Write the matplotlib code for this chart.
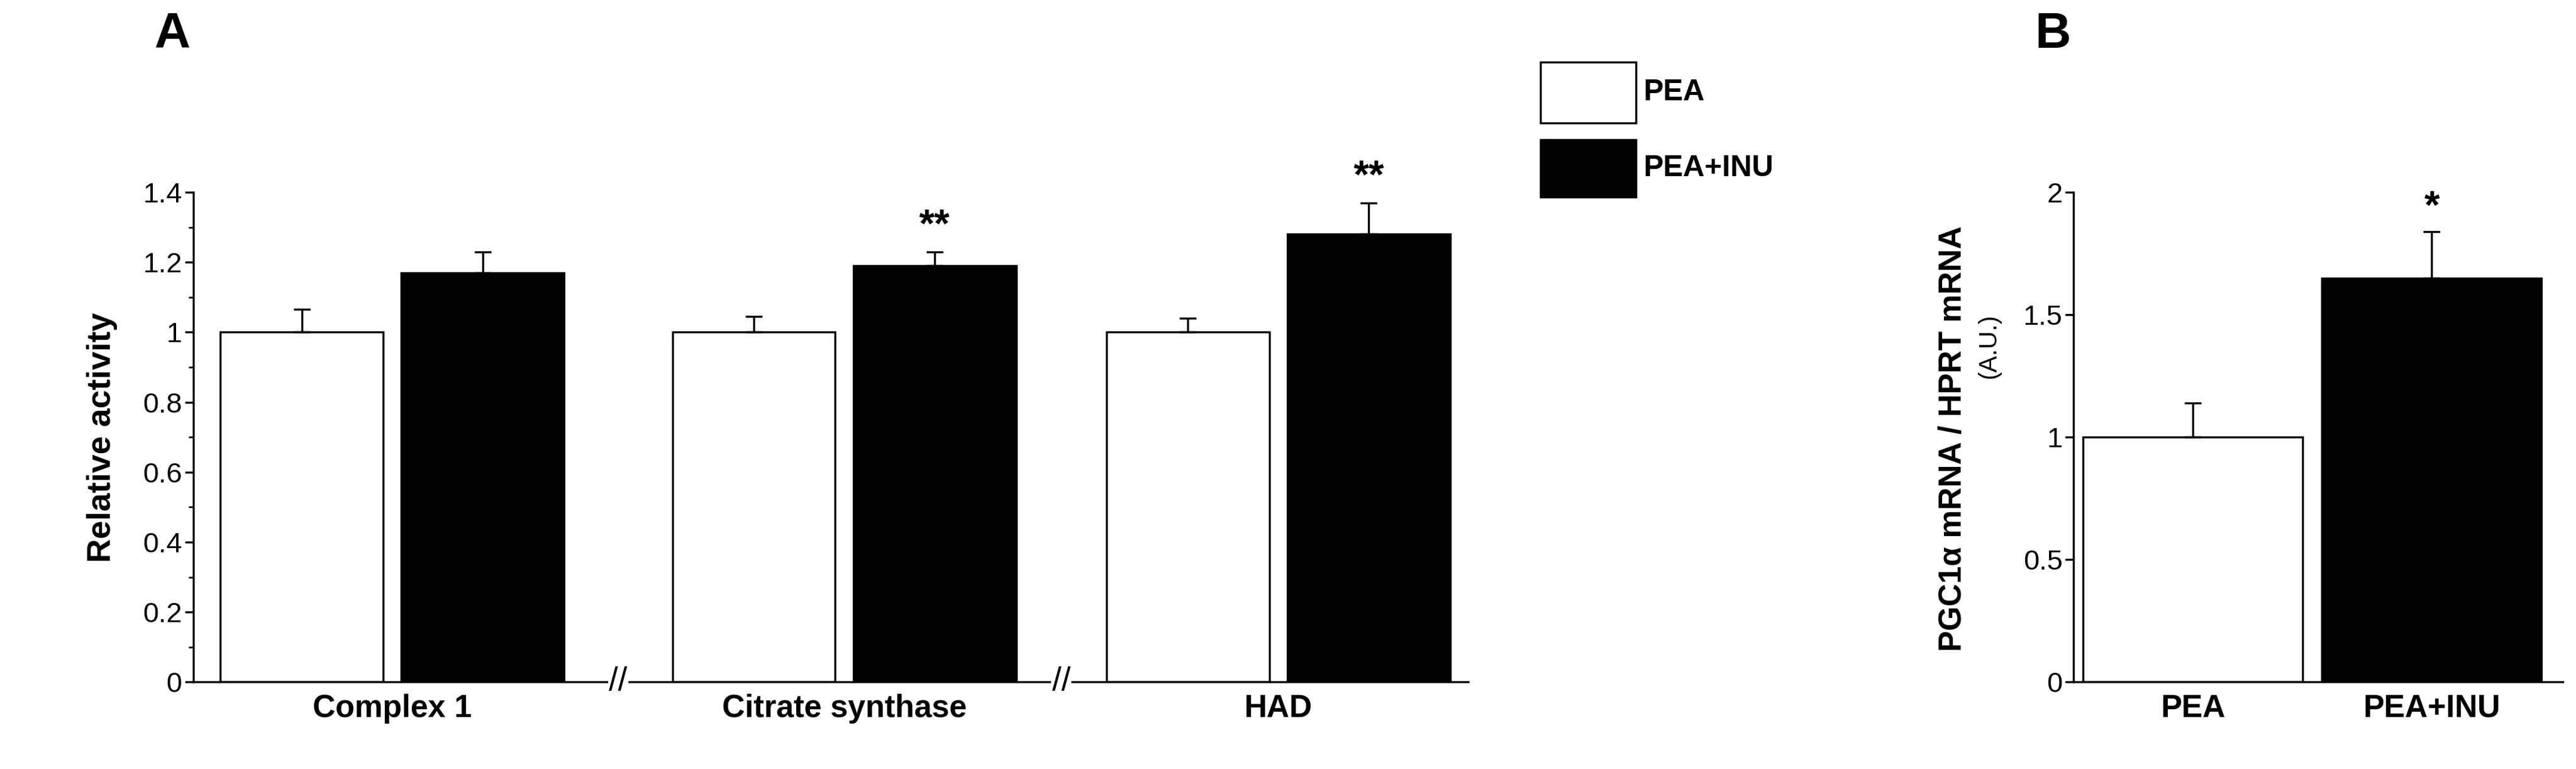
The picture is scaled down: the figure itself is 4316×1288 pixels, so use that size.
import matplotlib.pyplot as plt
from matplotlib.patches import Rectangle

plt.rcParams['font.family'] = ['Liberation Sans', 'DejaVu Sans']

# ---------------- data ----------------
groups = ['Complex 1', 'Citrate synthase', 'HAD']
pea_vals = [1.0, 1.0, 1.0]
pea_err = [0.065, 0.045, 0.04]
inu_vals = [1.17, 1.19, 1.28]
inu_err = [0.06, 0.04, 0.09]
stars_a = ['', '**', '**']

b_labels = ['PEA', 'PEA+INU']
b_vals = [1.0, 1.65]
b_err = [0.14, 0.19]
stars_b = ['', '*']

fig = plt.figure(figsize=(43.16, 12.88), dpi=100)

# ---------------- panel A ----------------
ax = fig.add_axes([0.075, 0.113, 0.495, 0.637])
width = 0.9
pea_x = [0.6, 3.1, 5.5]
inu_x = [p + 1.0 for p in pea_x]
ax.bar(pea_x, pea_vals, width, color='white', edgecolor='black', linewidth=2.5)
ax.bar(inu_x, inu_vals, width, color='black', edgecolor='black', linewidth=2.5)
ax.errorbar(pea_x, pea_vals, yerr=[[0] * 3, pea_err], fmt='none', ecolor='black',
            elinewidth=2.5, capsize=10, capthick=2.5)
ax.errorbar(inu_x, inu_vals, yerr=[[0] * 3, inu_err], fmt='none', ecolor='black',
            elinewidth=2.5, capsize=10, capthick=2.5)
for x, v, e, s in zip(inu_x, inu_vals, inu_err, stars_a):
    if s:
        ax.text(x, v + e + 0.02, s, ha='center', va='bottom', fontsize=48, fontweight='bold')
ax.set_xlim(0, 7.05)
ax.set_ylim(0, 1.4)
ax.set_yticks([0, 0.2, 0.4, 0.6, 0.8, 1, 1.2, 1.4])
ax.set_yticklabels(['0', '0.2', '0.4', '0.6', '0.8', '1', '1.2', '1.4'])
ax.set_yticks([i * 0.1 for i in range(15)], minor=True)
ax.set_xticks([(p + q) / 2 for p, q in zip(pea_x, inu_x)])
ax.set_xticklabels(groups, fontweight='bold', fontsize=38)
ax.tick_params(axis='x', length=0, pad=14)
ax.tick_params(axis='y', labelsize=34, width=2.5, length=10)
ax.tick_params(axis='y', which='minor', width=2, length=6)
ax.set_ylabel('Relative activity', fontsize=40, fontweight='bold', labelpad=30)
for sp in ['top', 'right']:
    ax.spines[sp].set_visible(False)
for sp in ['left', 'bottom']:
    ax.spines[sp].set_linewidth(2.5)
# axis breaks
for bx in [2.35, 4.8]:
    ax.text(bx, 0, '//', ha='center', va='center', fontsize=40,
            bbox=dict(facecolor='white', edgecolor='none', pad=1))

# ---------------- legend ----------------
fig.patches.append(Rectangle((0.598, 0.840), 0.037, 0.079, transform=fig.transFigure,
                             facecolor='white', edgecolor='black', linewidth=2.5))
fig.patches.append(Rectangle((0.598, 0.744), 0.037, 0.074, transform=fig.transFigure,
                             facecolor='black', edgecolor='black', linewidth=2.5))
fig.text(0.638, 0.880, 'PEA', fontsize=36, fontweight='bold', va='center')
fig.text(0.638, 0.781, 'PEA+INU', fontsize=36, fontweight='bold', va='center')

# ---------------- panel B ----------------
bx_ = fig.add_axes([0.805, 0.113, 0.19, 0.637])
xb = [0.5, 1.5]
bx_.bar(xb, b_vals, 0.92, color=['white', 'black'], edgecolor='black', linewidth=2.5)
bx_.errorbar(xb, b_vals, yerr=[[0, 0], b_err], fmt='none', ecolor='black',
             elinewidth=2.5, capsize=10, capthick=2.5)
for x, v, e, s in zip(xb, b_vals, b_err, stars_b):
    if s:
        bx_.text(x, v + e + 0.02, s, ha='center', va='bottom', fontsize=48, fontweight='bold')
bx_.set_xlim(0, 2.05)
bx_.set_ylim(0, 2)
bx_.set_yticks([0, 0.5, 1, 1.5, 2])
bx_.set_yticklabels(['0', '0.5', '1', '1.5', '2'])
bx_.set_xticks(xb)
bx_.set_xticklabels(b_labels, fontweight='bold', fontsize=38)
bx_.tick_params(axis='x', length=0, pad=14)
bx_.tick_params(axis='y', labelsize=34, width=2.5, length=10)
for sp in ['top', 'right']:
    bx_.spines[sp].set_visible(False)
for sp in ['left', 'bottom']:
    bx_.spines[sp].set_linewidth(2.5)
fig.text(0.758, 0.43, 'PGC1α mRNA / HPRT mRNA', rotation=90, fontsize=38,
         fontweight='bold', ha='center', va='center')
fig.text(0.772, 0.55, '(A.U.)', rotation=90, fontsize=30, ha='center', va='center')

# panel letters
fig.text(0.06, 0.955, 'A', fontsize=60, fontweight='bold', ha='left', va='center')
fig.text(0.79, 0.955, 'B', fontsize=60, fontweight='bold', ha='left', va='center')

fig.savefig('out.png', dpi=100)
